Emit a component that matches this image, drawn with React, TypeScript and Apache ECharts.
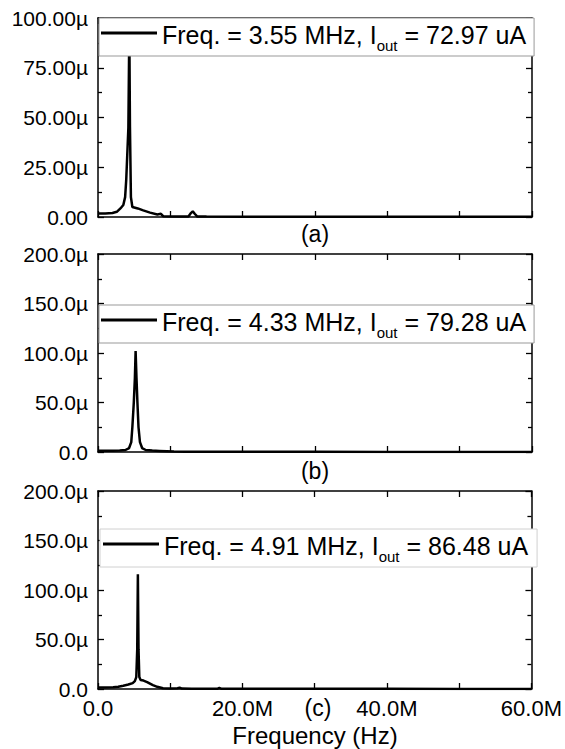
import React, { useEffect, useRef } from 'react';
import * as echarts from 'echarts';

// ---- data (frequency in MHz, amplitude in µ units) ----
const spectrumA: [number, number][] = [
  [0, 1.8], [1, 1.8], [2, 2.0], [2.6, 2.6], [3.1, 4.3], [3.5, 6], [3.75, 10], [3.9, 18.5],
  [4.2, 45], [4.33, 95], [4.42, 45], [4.55, 10], [4.75, 5], [5.5, 4.3], [6.25, 3.3],
  [7.2, 2.2], [8.2, 1.3], [8.7, 1.6], [9.0, 0.4], [10.5, 0.3], [12.5, 0.3], [12.8, 1.8],
  [13.1, 2.8], [13.4, 1.5], [13.7, 0.3], [15, 0.2], [20, 0.1], [30, 0.15], [40, 0.1],
  [50, 0.15], [60, 0.1],
];
const spectrumB: [number, number][] = [
  [0, 1.2], [1, 1.2], [2, 1.3], [3, 1.5], [3.8, 2], [4.3, 4], [4.6, 10], [4.75, 25],
  [4.95, 50], [5.1, 75], [5.2, 102], [5.32, 75], [5.45, 50], [5.6, 25], [5.8, 10],
  [6.1, 4], [6.6, 2], [7.5, 1.4], [8.5, 1.1], [9.5, 0.8], [10.5, 0.5], [12, 0.3],
  [15, 0.2], [20, 0.15], [30, 0.15], [40, 0.1], [50, 0.1], [60, 0.1],
];
const spectrumC: [number, number][] = [
  [0, 1.5], [1, 1.5], [2.1, 1.7], [2.8, 2.2], [3.5, 3.3], [4.2, 4.5], [4.8, 6], [5.1, 8],
  [5.3, 12], [5.43, 40], [5.52, 116], [5.61, 40], [5.72, 12], [5.9, 9], [6.3, 8.5],
  [6.8, 7], [7.6, 4], [8.2, 2.2], [9, 0.8], [10, 0.5], [11, 0.8], [11.3, 1.3],
  [11.6, 0.4], [13, 0.3], [16.5, 0.2], [16.8, 1], [17.1, 0.2], [20, 0.3], [30, 0.2],
  [40, 0.2], [50, 0.1], [60, 0.1],
];

const legendFreq = ['3.55', '4.33', '4.91'];
const legendIout = ['72.97', '79.28', '86.48'];
const panelLetters = ['(a)', '(b)', '(c)'];
const yMaxes = [100, 200, 200];
const ySteps = [25, 50, 50];
const yDecimals = [2, 1, 1];
const xMax = 60;
const xStep = 20;
const xTitle = 'Frequency (Hz)';

const FONT = '"Liberation Sans", Arial, Helvetica, sans-serif';
const INK = '#000';

const layout = [
  { top: 18, height: 199, legendTop: 18, legendLeft: 99, border: '#999', pad: [1, 8, 3, 2], letterY: 234 },
  { top: 254, height: 198, legendTop: 305, legendLeft: 99, border: '#999', pad: [1, 8, 3, 2], letterY: 471 },
  { top: 491, height: 198, legendTop: 529, legendLeft: 100, border: '#d0d0d0', pad: [1, 9, 3, 3], letterY: 708 },
];

const series = [spectrumA, spectrumB, spectrumC];

export default function App() {
  const ref = useRef<HTMLDivElement>(null);

  useEffect(() => {
    document.body.style.margin = '0';
    if (!ref.current) return;
    const chart = echarts.init(ref.current, undefined, { renderer: 'svg' });

    const names = legendFreq.map((f, i) => `Freq. = ${f} MHz, Iout = ${legendIout[i]} uA`);

    const axisLine = { show: true, onZero: false, lineStyle: { color: '#000', width: 1.5 } };
    const tick = (len: number) => ({ show: true, inside: true, length: len, lineStyle: { color: '#000', width: 1.3 } });

    const grids: any[] = [];
    const xAxes: any[] = [];
    const yAxes: any[] = [];
    const seriesOpts: any[] = [];
    const legends: any[] = [];

    layout.forEach((l, i) => {
      grids.push({ left: 98, width: 434, top: l.top, height: l.height, containLabel: false });
      const xBase = {
        type: 'value', gridIndex: i, min: 0, max: xMax, interval: xStep,
        axisLine, axisTick: tick(6),
        minorTick: { show: true, splitNumber: 2, length: 6, lineStyle: { color: '#000', width: 1.3 } },
        splitLine: { show: false }, minorSplitLine: { show: false },
      };
      xAxes.push({
        ...xBase, position: 'bottom',
        axisLabel: {
          show: i === 2, margin: 8, fontSize: 22, color: INK, fontFamily: FONT,
          formatter: (v: number) => (v === 0 ? '0.0' : v.toFixed(1) + 'M'),
        },
      });
      xAxes.push({ ...xBase, position: 'top', axisLabel: { show: false } });
      const yBase = {
        type: 'value', gridIndex: i, min: 0, max: yMaxes[i], interval: ySteps[i],
        axisLine, axisTick: tick(6),
        minorTick: { show: true, splitNumber: 2, length: 4, lineStyle: { color: '#000', width: 1.3 } },
        splitLine: { show: false }, minorSplitLine: { show: false },
      };
      yAxes.push({
        ...yBase, position: 'left',
        axisLabel: {
          show: true, margin: 10, fontSize: 21, color: INK, fontFamily: FONT,
          formatter: (v: number) => (v === 0 ? v.toFixed(yDecimals[i]) : v.toFixed(yDecimals[i]) + 'µ'),
        },
      });
      yAxes.push({ ...yBase, position: 'right', axisLabel: { show: false } });

      seriesOpts.push({
        type: 'line', name: names[i], xAxisIndex: 2 * i, yAxisIndex: 2 * i,
        data: series[i], showSymbol: false, symbol: 'none', smooth: false,
        lineStyle: { color: '#000', width: 2.5 }, itemStyle: { color: '#000' },
      });

      legends.push({
        data: [names[i]], left: l.legendLeft, top: l.legendTop, orient: 'horizontal',
        selectedMode: false, icon: 'rect', itemWidth: 56, itemHeight: 2.8, itemGap: 0,
        padding: l.pad, backgroundColor: '#fff', borderColor: l.border, borderWidth: 1,
        borderRadius: 0,
        formatter: () => `{m|Freq. = ${legendFreq[i]} MHz, I}{s|out}{m| = ${legendIout[i]} uA}`,
        textStyle: {
          color: INK, fontFamily: FONT,
          rich: {
            m: { fontSize: 25, lineHeight: 28, padding: [3, 0, 0, 0], verticalAlign: 'top', fontFamily: FONT, color: INK },
            s: { fontSize: 15, lineHeight: 15, padding: [19, 0, 0, 0], verticalAlign: 'top', fontFamily: FONT, color: INK },
          },
        },
      });
    });

    const graphics: any[] = panelLetters.map((t, i) => ({
      type: 'text', x: i === 2 ? 318 : 315, y: layout[i].letterY, z: 10,
      style: { text: t, fontSize: 23, fontFamily: FONT, fill: INK, textAlign: 'center', textVerticalAlign: 'middle' },
    }));
    graphics.push({
      type: 'text', x: 315, y: 735, z: 10,
      style: { text: xTitle, fontSize: 24, fontFamily: FONT, fill: INK, textAlign: 'center', textVerticalAlign: 'middle' },
    });

    chart.setOption({
      animation: false,
      backgroundColor: '#fff',
      grid: grids,
      xAxis: xAxes,
      yAxis: yAxes,
      series: seriesOpts,
      legend: legends,
      graphic: graphics,
    });

    return () => chart.dispose();
  }, []);

  return <div ref={ref} style={{ width: 565, height: 749 }} />;
}
